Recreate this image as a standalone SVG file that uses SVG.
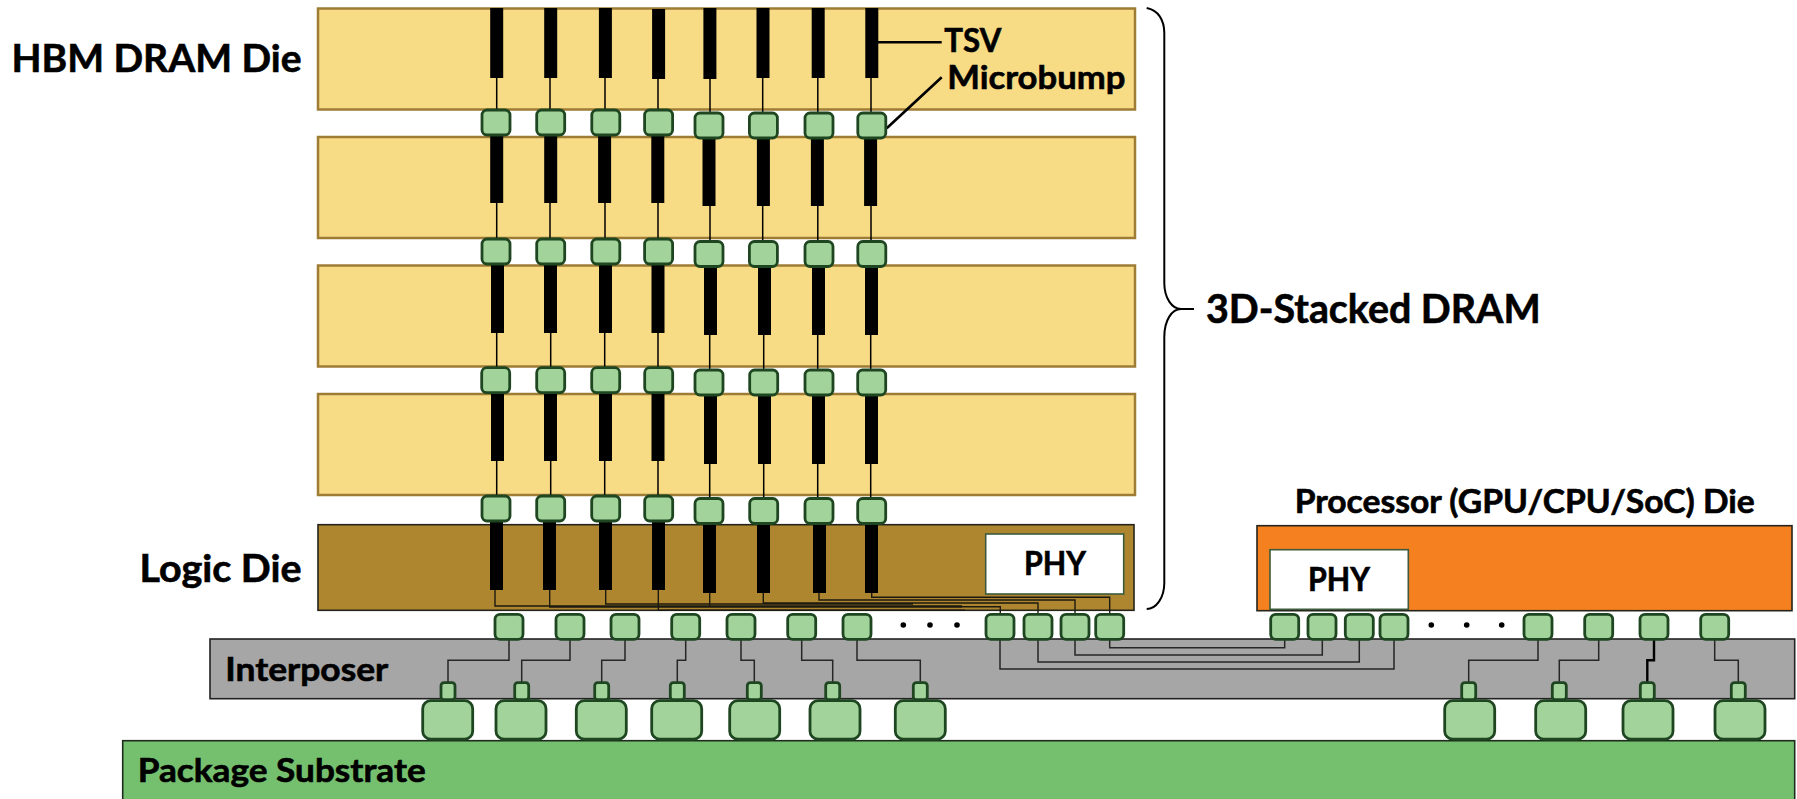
<svg xmlns="http://www.w3.org/2000/svg" width="1797" height="799" viewBox="0 0 1797 799">
<style>
text{font-family:Lato,"Open Sans","Liberation Sans",sans-serif;font-weight:700;fill:#000;stroke:#000;stroke-width:.6}
.dram{fill:#f8db85;stroke:#9e7c35;stroke-width:2.5}
.logic{fill:#ae862f;stroke:#26241a;stroke-width:1.6}
.proc{fill:#f58020;stroke:#26241a;stroke-width:1.6}
.inter{fill:#a6a6a6;stroke:#222;stroke-width:1.6}
.sub{fill:#75c06e;stroke:#1f2a1f;stroke-width:1.6}
.phy{fill:#fff;stroke:#3c5a3c;stroke-width:1.6}
.b{fill:#a2d39b;stroke:#1e4620;stroke-width:2.8}
.tsv{fill:none;stroke:#000;stroke-width:13}
.thin{fill:none;stroke:#000;stroke-width:1.5}
.rt{fill:none;stroke:#1c1a10;stroke-width:1.4}
.tr{fill:none;stroke:#262626;stroke-width:1.5}
.lead{fill:none;stroke:#000;stroke-width:2.6}
</style>
<g id="substrate"><rect class="sub" x="122.7" y="740.7" width="1672" height="70"/><text x="137.7" y="782.3" font-size="33" textLength="288" lengthAdjust="spacingAndGlyphs">Package Substrate</text></g>
<g id="interposer"><rect class="inter" x="210" y="639" width="1584.7" height="59.7"/><text x="225.3" y="680.7" font-size="33" textLength="163" lengthAdjust="spacingAndGlyphs">Interposer</text></g>
<g id="die-1"><rect class="dram" x="318" y="8.5" width="817" height="101"/><path class="tsv" d="M496.7 8V78M550.7 8V78M605.4 8V78M658.6 9V79M709.9 8V79M763 8V78M818.2 8V78M871.8 8V78"/><path class="thin" d="M496.7 78V110M550 78V110M605 78V110M658 78V110M710 79V113M762.7 78V113M817.8 78V113M871 78V113"/></g>
<g id="die-2"><rect class="dram" x="318" y="137" width="817" height="101"/><path class="tsv" d="M496.7 136V203M550.7 136V203M604.6 136V203M657.8 136V203M709 138V206M763.4 138V206M817.4 138V206M870.6 138V206"/><path class="thin" d="M496.7 203V239M550 203V239M605 203V239M658 203V239M710 206V241M762.7 206V241M817.8 206V241M871 206V241"/></g>
<g id="die-3"><rect class="dram" x="318" y="265.5" width="817" height="101"/><path class="tsv" d="M497.5 264V333M550.5 264V333M605.5 264V333M658 264V333M710.5 267V335M764.5 267V335M818.5 267V335M871.5 267V335"/><path class="thin" d="M496.7 333V368M550.7 333V368M604.7 333V368M658 333V368M709.7 335V370M763.7 335V370M817.7 335V370M870.7 335V370"/></g>
<g id="die-4"><rect class="dram" x="318" y="394" width="817" height="101"/><path class="tsv" d="M497.5 393V461M550.5 393V461M605.5 393V461M658 393V461M710.5 395V464M764.5 395V464M818.5 395V464M871.5 395V464"/><path class="thin" d="M496.7 461V496M550.7 461V496M604.7 461V496M658 461V496M709.7 464V498M763.7 464V498M817.7 464V498M870.7 464V498"/></g>
<g id="logic-die"><rect class="logic" x="318" y="524.7" width="816" height="85.6"/><path class="tsv" d="M496.5 521V590M549.5 521V590M605.5 521V590M658.5 521V590M709.5 524V593M763.5 524V593M819.5 524V593M871.5 524V593"/></g>
<g id="phy-logic"><rect class="phy" x="985.7" y="534" width="138" height="60"/><text x="1024" y="575.3" font-size="33" textLength="62" lengthAdjust="spacingAndGlyphs">PHY</text></g>
<g id="processor-die"><rect class="proc" x="1257" y="525.7" width="535" height="85"/></g>
<g id="phy-processor"><rect class="phy" x="1270" y="549.7" width="138.3" height="59.6"/><text x="1308" y="591" font-size="33" textLength="62" lengthAdjust="spacingAndGlyphs">PHY</text></g>
<g id="connectors">
<path class="rt" d="M495 590V606H962M549.7 590V607H962M605.7 590V604H913M658.3 590V610.3H965M709.7 593V606.7H1000.3V614M763.3 593V603H1038V614M819 593V600H1075V614M871.7 593V597.3H1109.7V614"/>
<path class="tr" d="M509 640V660.3H448V682M570 640V660.3H521.7V682M625 640V660.3H601.7V682M685.7 640V660.3H677.3V682M741 640V660.3H754.3V682M801.7 640V660.3H832.7V682M857 640V660.3H920.3V682"/>
<path class="tr" d="M1000 640V669H1394V640M1038 640V662H1359.3V640M1075 640V655H1322.3V640M1109.7 640V647.7H1284.7V640"/>
<path class="tr" d="M1538 640V660.3H1468.7V682M1598.7 640V660.3H1559.3V682M1714.7 640V660.3H1738.3V682"/>
<path class="tr" style="stroke:#000;stroke-width:2.4" d="M1654 640V660.3H1647.3V682"/>
<path class="lead" d="M878 42.3H941.7M886.7 128.3L941.7 77.3"/>
<path class="lead" style="stroke-width:2" d="M1146.7 8C1158 10 1164.3 20 1164.3 33V283C1164.3 298 1172 309 1181 309H1194M1181 309C1172 309 1164.3 320 1164.3 337V583C1164.3 598 1156 609 1146.7 609"/>
</g>
<g id="microbumps-1"><rect class="b" x="482" y="110" width="28" height="25" rx="5"/><rect class="b" x="536.7" y="110" width="28" height="25" rx="5"/><rect class="b" x="591.8" y="110" width="28" height="25" rx="5"/><rect class="b" x="644.6" y="110" width="28" height="25" rx="5"/><rect class="b" x="695" y="113" width="28" height="25" rx="5"/><rect class="b" x="749.4" y="113" width="28" height="25" rx="5"/><rect class="b" x="805" y="113" width="28" height="25" rx="5"/><rect class="b" x="857.8" y="113" width="28" height="25" rx="5"/></g>
<g id="microbumps-2"><rect class="b" x="482" y="239" width="28" height="25" rx="5"/><rect class="b" x="536.7" y="239" width="28" height="25" rx="5"/><rect class="b" x="591.8" y="239" width="28" height="25" rx="5"/><rect class="b" x="644.6" y="239" width="28" height="25" rx="5"/><rect class="b" x="695" y="241.5" width="28" height="25" rx="5"/><rect class="b" x="749.4" y="241.5" width="28" height="25" rx="5"/><rect class="b" x="805" y="241.5" width="28" height="25" rx="5"/><rect class="b" x="857.8" y="241.5" width="28" height="25" rx="5"/></g>
<g id="microbumps-3"><rect class="b" x="481.7" y="367.7" width="28" height="25" rx="5"/><rect class="b" x="536.7" y="367.7" width="28" height="25" rx="5"/><rect class="b" x="591.7" y="367.7" width="28" height="25" rx="5"/><rect class="b" x="644.7" y="367.7" width="28" height="25" rx="5"/><rect class="b" x="695" y="370" width="28" height="25" rx="5"/><rect class="b" x="749.7" y="370" width="28" height="25" rx="5"/><rect class="b" x="805" y="370" width="28" height="25" rx="5"/><rect class="b" x="857.7" y="370" width="28" height="25" rx="5"/></g>
<g id="microbumps-4"><rect class="b" x="482" y="496" width="28" height="25" rx="5"/><rect class="b" x="536.7" y="496" width="28" height="25" rx="5"/><rect class="b" x="591.7" y="496" width="28" height="25" rx="5"/><rect class="b" x="644.7" y="496" width="28" height="25" rx="5"/><rect class="b" x="695" y="498.5" width="28" height="25" rx="5"/><rect class="b" x="749.7" y="498.5" width="28" height="25" rx="5"/><rect class="b" x="805" y="498.5" width="28" height="25" rx="5"/><rect class="b" x="857.7" y="498.5" width="28" height="25" rx="5"/></g>
<g id="interposer-pads"><rect class="b" x="495" y="614.3" width="28" height="25" rx="5"/><rect class="b" x="556" y="614.3" width="28" height="25" rx="5"/><rect class="b" x="611" y="614.3" width="28" height="25" rx="5"/><rect class="b" x="671.7" y="614.3" width="28" height="25" rx="5"/><rect class="b" x="727" y="614.3" width="28" height="25" rx="5"/><rect class="b" x="787.7" y="614.3" width="28" height="25" rx="5"/><rect class="b" x="843" y="614.3" width="28" height="25" rx="5"/><rect class="b" x="986" y="614.3" width="28" height="25" rx="5"/><rect class="b" x="1024" y="614.3" width="28" height="25" rx="5"/><rect class="b" x="1061" y="614.3" width="28" height="25" rx="5"/><rect class="b" x="1095.7" y="614.3" width="28" height="25" rx="5"/><rect class="b" x="1270.7" y="614.3" width="28" height="25" rx="5"/><rect class="b" x="1308" y="614.3" width="28" height="25" rx="5"/><rect class="b" x="1345.3" y="614.3" width="28" height="25" rx="5"/><rect class="b" x="1380" y="614.3" width="28" height="25" rx="5"/><rect class="b" x="1524" y="614.3" width="28" height="25" rx="5"/><rect class="b" x="1584.7" y="614.3" width="28" height="25" rx="5"/><rect class="b" x="1640" y="614.3" width="28" height="25" rx="5"/><rect class="b" x="1700.7" y="614.3" width="28" height="25" rx="5"/></g>
<g id="ellipsis" fill="#000"><circle cx="903.3" cy="625" r="2.8"/><circle cx="930" cy="625" r="2.8"/><circle cx="957" cy="625" r="2.8"/><circle cx="1431.3" cy="625" r="2.8"/><circle cx="1466.7" cy="625" r="2.8"/><circle cx="1501.7" cy="625" r="2.8"/></g>
<g id="small-pads"><rect class="b" x="441" y="682.7" width="14" height="17" rx="3"/><rect class="b" x="514.7" y="682.7" width="14" height="17" rx="3"/><rect class="b" x="594.7" y="682.7" width="14" height="17" rx="3"/><rect class="b" x="670.3" y="682.7" width="14" height="17" rx="3"/><rect class="b" x="747.3" y="682.7" width="14" height="17" rx="3"/><rect class="b" x="825.7" y="682.7" width="14" height="17" rx="3"/><rect class="b" x="913.3" y="682.7" width="14" height="17" rx="3"/><rect class="b" x="1461.7" y="682.7" width="14" height="17" rx="3"/><rect class="b" x="1552.3" y="682.7" width="14" height="17" rx="3"/><rect class="b" x="1640.3" y="682.7" width="14" height="17" rx="3"/><rect class="b" x="1731.3" y="682.7" width="14" height="17" rx="3"/></g>
<g id="package-bumps"><rect class="b" x="422.7" y="700.7" width="50" height="38.5" rx="8"/><rect class="b" x="496" y="700.7" width="50" height="38.5" rx="8"/><rect class="b" x="576.3" y="700.7" width="50" height="38.5" rx="8"/><rect class="b" x="651.7" y="700.7" width="50" height="38.5" rx="8"/><rect class="b" x="729.7" y="700.7" width="50" height="38.5" rx="8"/><rect class="b" x="810" y="700.7" width="50" height="38.5" rx="8"/><rect class="b" x="895.3" y="700.7" width="50" height="38.5" rx="8"/><rect class="b" x="1444.7" y="700.7" width="50" height="38.5" rx="8"/><rect class="b" x="1535.7" y="700.7" width="50" height="38.5" rx="8"/><rect class="b" x="1623" y="700.7" width="50" height="38.5" rx="8"/><rect class="b" x="1715" y="700.7" width="50" height="38.5" rx="8"/></g>
<g id="labels">
<text x="11.5" y="72.3" font-size="38" textLength="290" lengthAdjust="spacingAndGlyphs">HBM DRAM Die</text>
<text x="139.5" y="582.3" font-size="38" textLength="162" lengthAdjust="spacingAndGlyphs">Logic Die</text>
<text x="944.3" y="52.3" font-size="33" textLength="57" lengthAdjust="spacingAndGlyphs">TSV</text>
<text x="947.3" y="89" font-size="33" textLength="178" lengthAdjust="spacingAndGlyphs">Microbump</text>
<text x="1206" y="323" font-size="40" textLength="334.7" lengthAdjust="spacingAndGlyphs">3D-Stacked DRAM</text>
<text x="1294.7" y="513.3" font-size="32" textLength="460" lengthAdjust="spacingAndGlyphs">Processor (GPU/CPU/SoC) Die</text>
</g>
</svg>
